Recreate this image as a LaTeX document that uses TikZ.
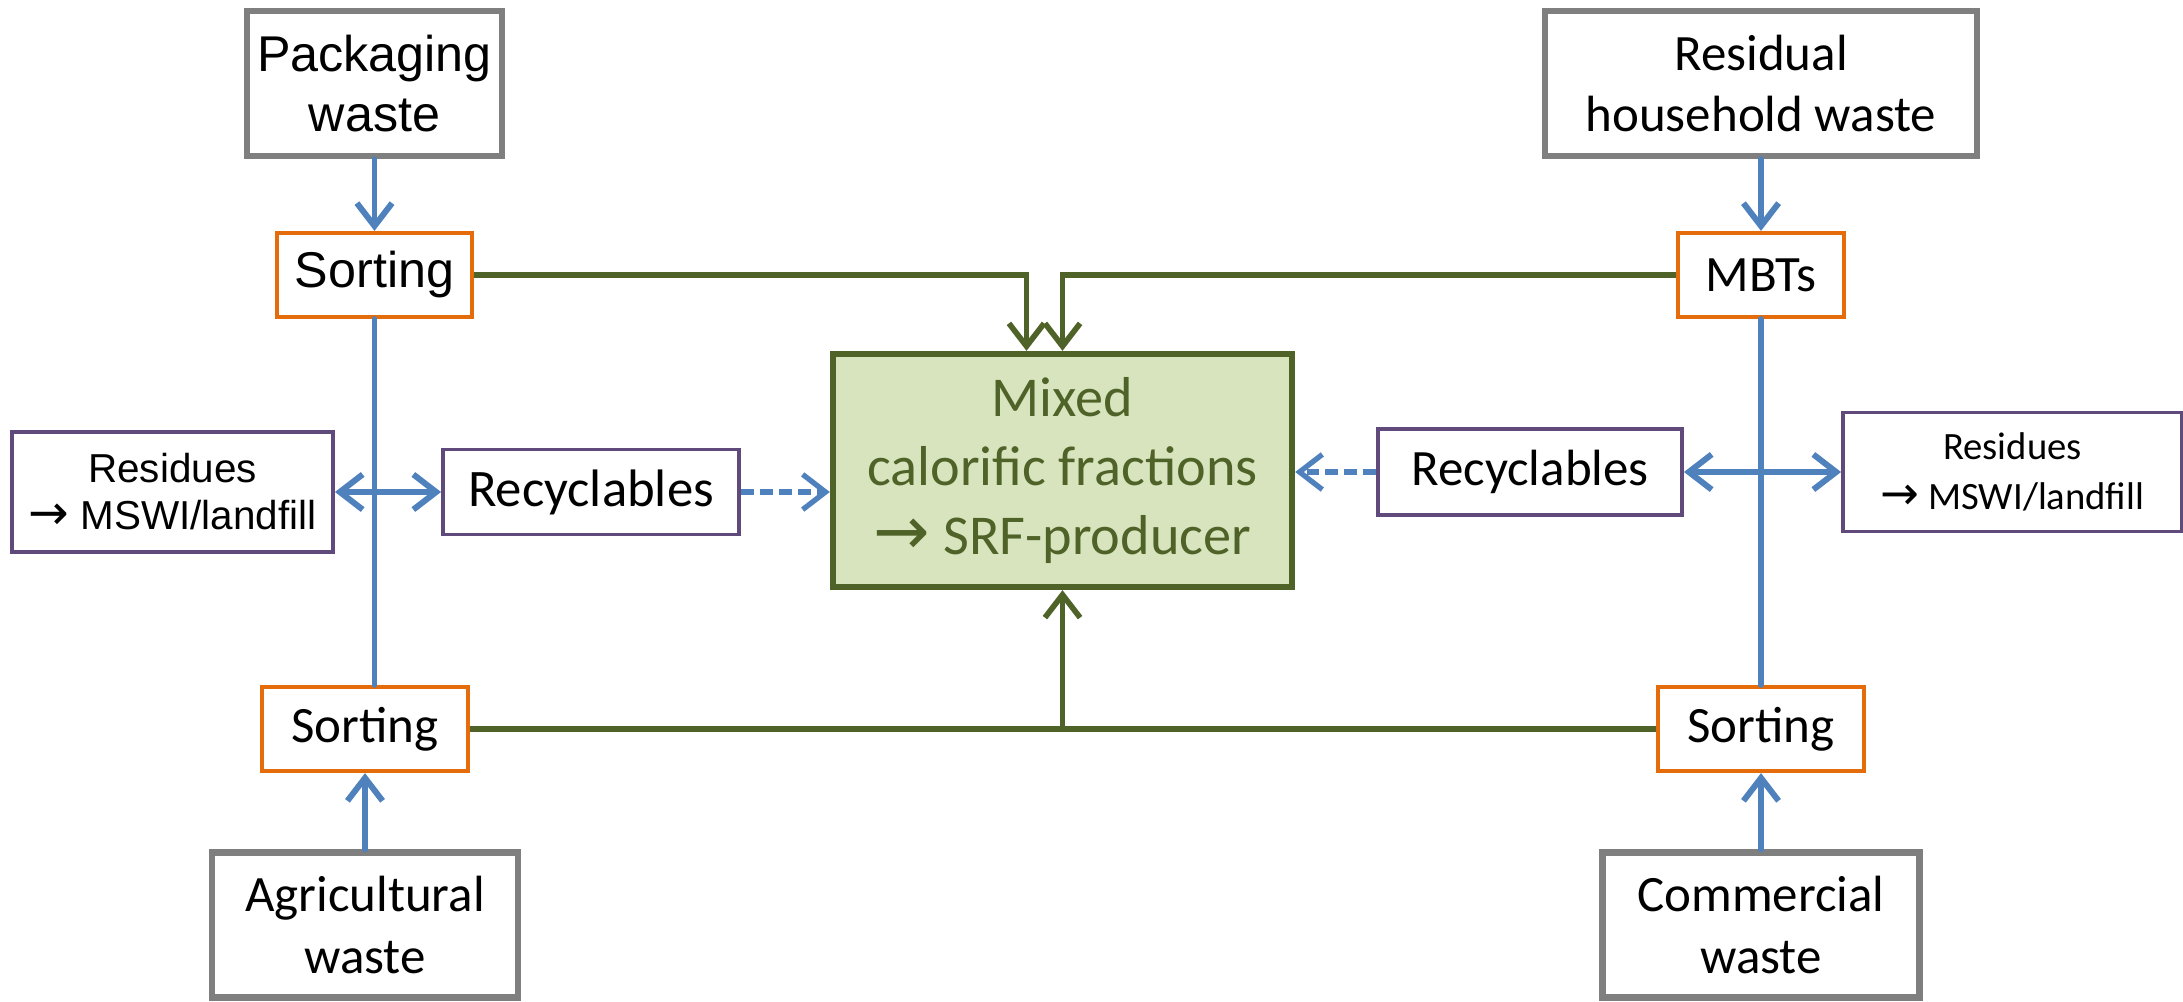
\documentclass[tikz,border=0pt]{standalone}
\usepackage{fontspec}
\setmainfont{Carlito}
\newfontfamily\arialfont{Liberation Sans}
\newfontfamily\symfont{DejaVu Sans}
\usetikzlibrary{arrows.meta, positioning}

\definecolor{wgrey}{HTML}{7F7F7F}
\definecolor{worange}{HTML}{E46C0A}
\definecolor{wpurple}{HTML}{604A7B}
\definecolor{wgreen}{HTML}{4F6228}
\definecolor{wfill}{HTML}{D7E4BD}
\definecolor{wblue}{HTML}{4F81BD}

\newcommand{\goesto}{{\symfont\scalebox{1.2}{→}}}

\begin{document}
\begin{tikzpicture}[
  every node/.style={align=center, inner sep=0pt},
  >={Straight Barb[length=6.5pt, width=10pt]},
  source/.style={draw=wgrey, line width=1.8pt, minimum height=1.45cm, font=\fontsize{14.5}{17.5}\selectfont},
  process/.style={draw=worange, line width=1.2pt, minimum height=0.84cm, font=\fontsize{14.5}{17.5}\selectfont},
  outbox/.style={draw=wpurple, line width=1.1pt},
  target/.style={draw=wgreen, fill=wfill, line width=1.8pt, text=wgreen, font=\fontsize{16}{19.6}\selectfont},
  flow/.style={draw=wblue, line width=1.7pt, line cap=round},
  feed/.style={draw=wgreen, line width=1.6pt},
  recycle/.style={draw=wblue, line width=1.5pt, dash pattern=on 3.6pt off 1.8pt}
]
  \useasboundingbox (0,0) rectangle (21.83,10.01);

  % Waste streams
  \node[source, minimum width=2.55cm, font=\arialfont\fontsize{14.3}{17}\selectfont] (pack) at (3.745,9.175) {Packaging\\waste};
  \node[source, minimum width=4.32cm] (resid) at (17.61,9.175) {Residual\\household waste};
  \node[source, minimum width=3.06cm] (agri) at (3.65,0.76) {Agricultural\\waste};
  \node[source, minimum width=3.17cm] (comm) at (17.61,0.76) {Commercial\\waste};

  % Treatment steps
  \node[process, minimum width=1.95cm, font=\arialfont\fontsize{14.3}{17}\selectfont] (sortA) at (3.745,7.26) {Sorting};
  \node[process, minimum width=1.66cm] (mbt) at (17.61,7.26) {MBTs};
  \node[process, minimum width=2.06cm] (sortB) at (3.65,2.72) {Sorting};
  \node[process, minimum width=2.06cm] (sortC) at (17.61,2.72) {Sorting};

  % Outputs
  \node[outbox, minimum width=3.21cm, minimum height=1.2cm, font=\arialfont\fontsize{11.5}{13.4}\selectfont] (resL) at (1.725,5.09) {Residues\\\goesto{} MSWI/landfill};
  \node[outbox, minimum width=2.96cm, minimum height=0.85cm, font=\fontsize{15}{18}\selectfont] (recL) at (5.91,5.09) {Recyclables};
  \node[outbox, minimum width=3.04cm, minimum height=0.86cm, font=\fontsize{14.5}{17.5}\selectfont] (recR) at (15.30,5.29) {Recyclables};
  \node[outbox, minimum width=3.39cm, minimum height=1.19cm, font=\fontsize{11}{14.2}\selectfont] (resR) at (20.125,5.29) {Residues\\\goesto{} MSWI/landfill};

  % SRF producer
  \node[target, minimum width=4.59cm, minimum height=2.33cm] (mixed) at (10.625,5.305) {Mixed\\calorific fractions\\\goesto{} SRF-producer};

  % Inputs to treatment
  \draw[flow, ->] (pack) -- (sortA);
  \draw[flow, ->] (resid) -- (mbt);
  \draw[flow, ->] (agri) -- (sortB);
  \draw[flow, ->] (comm) -- (sortC);

  % Connections between the sorting lines
  \draw[flow] (sortA.south) -- (sortA.south |- sortB.north);
  \draw[flow] (mbt.south) -- (sortC.north);
  \draw[flow, <->] (resL.east) -- (resL.east -| recL.west);
  \draw[flow, <->] (recR.east) -- (recR.east -| resR.west);

  % Recyclables to SRF
  \draw[recycle, ->] (recL.east) -- (recL.east -| mixed.west);
  \draw[recycle, ->] (recR.west) -- (recR.west -| mixed.east);

  % Calorific fractions
  \draw[feed, ->] (sortA.east) -| ([xshift=-3.6mm]mixed.north);
  \draw[feed, ->] (mbt.west) -| (mixed.north);
  \draw[feed] (sortB.east) -- (sortC.west);
  \coordinate (join) at (sortB.east -| mixed.south);
  \draw[feed, ->] (join) -- (mixed.south);

\end{tikzpicture}
\end{document}
